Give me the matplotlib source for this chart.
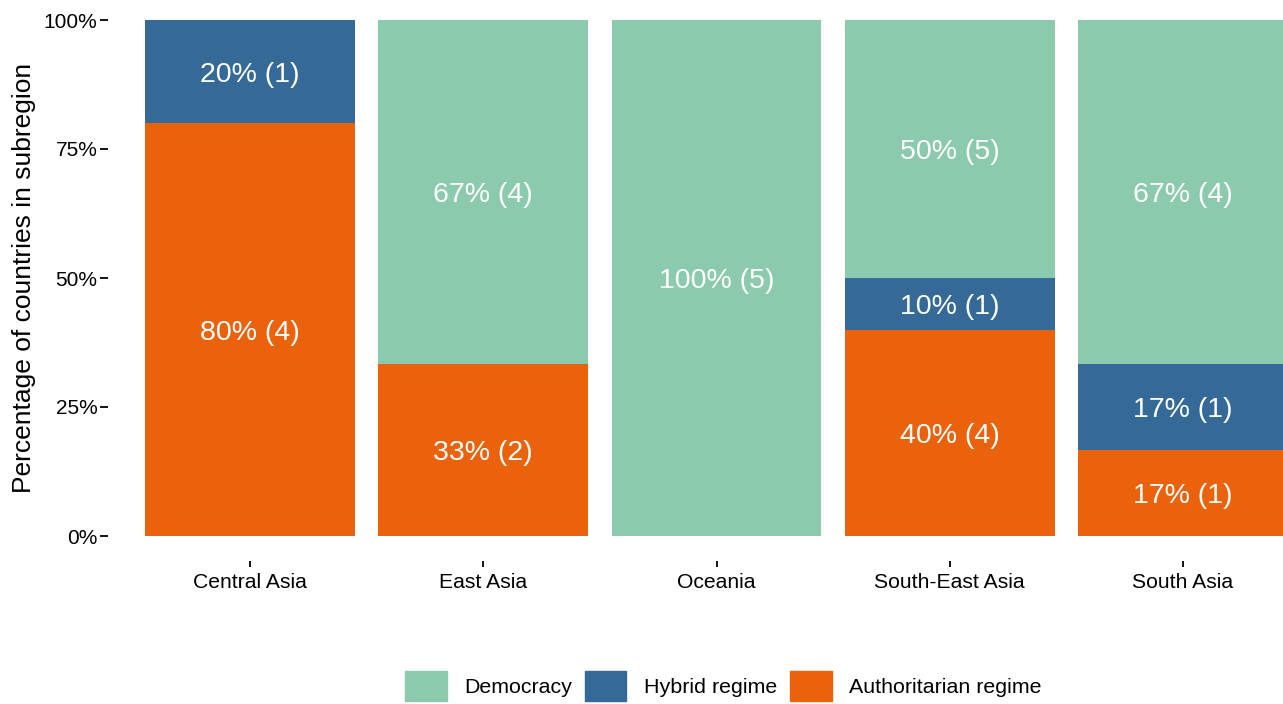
import matplotlib.pyplot as plt
from matplotlib.patches import Patch
import numpy as np

plt.rcParams['font.family'] = ['Liberation Sans', 'DejaVu Sans']

subregions = ['Central Asia', 'East Asia', 'Oceania', 'South-East Asia', 'South Asia']
regimes = ['Authoritarian regime', 'Hybrid regime', 'Democracy']
authoritarian = [4, 2, 0, 4, 1]
hybrid = [1, 0, 0, 1, 1]
democracy = [0, 4, 5, 5, 4]
colors = {'Democracy': '#8ccaae', 'Hybrid regime': '#356a98', 'Authoritarian regime': '#eb620c'}

counts = np.array([authoritarian, hybrid, democracy], dtype=float)
totals = counts.sum(axis=0)
shares = counts / totals * 100

fig = plt.figure(figsize=(12.83, 7.04), dpi=100)
ax = fig.add_axes([110 / 1283, 1 - 536 / 704, 1213 / 1283, 516 / 704])

x = np.arange(len(subregions))
bottom = np.zeros(len(subregions))
for i, reg in enumerate(regimes):
    ax.bar(x, shares[i], bottom=bottom, width=0.9, color=colors[reg])
    for j in range(len(subregions)):
        if counts[i, j] > 0:
            ax.text(x[j], bottom[j] + shares[i, j] / 2,
                    '%d%% (%d)' % (round(shares[i, j]), counts[i, j]),
                    ha='center', va='center_baseline', color='white', fontsize=20.5)
    bottom += shares[i]

# spine offsets first: set_position resets the tick objects
for s in ['top', 'right']:
    ax.spines[s].set_visible(False)
ax.spines['bottom'].set_position(('outward', 18))
ax.spines['left'].set_position(('outward', 1.5))
ax.spines['bottom'].set_color('none')
ax.spines['left'].set_color('none')

ax.set_xlim(-0.6, 4.6)
ax.set_ylim(0, 100)
ax.set_xticks(x)
ax.set_xticklabels(subregions)
ax.set_yticks([0, 25, 50, 75, 100])
ax.set_yticklabels(['0%', '25%', '50%', '75%', '100%'])
ax.tick_params(axis='x', length=4.3, width=1.3, pad=4.5, colors='black', labelsize=15.2)
ax.tick_params(axis='y', length=5.5, width=1.3, pad=2, colors='black', labelsize=15)
ax.set_ylabel('Percentage of countries in subregion', fontsize=19)
ax.yaxis.set_label_coords((36 - 110) / 1213, 0.5)

handles = [Patch(color=colors[r]) for r in ['Democracy', 'Hybrid regime', 'Authoritarian regime']]
fig.legend(handles, ['Democracy', 'Hybrid regime', 'Authoritarian regime'],
           loc='center', bbox_to_anchor=(723 / 1283, 1 - 686 / 704), ncol=3,
           frameon=False, fontsize=15.4, handlelength=1.96, handleheight=1.78,
           handletextpad=0.8, columnspacing=0.6)

fig.savefig('out.png', dpi=100)
